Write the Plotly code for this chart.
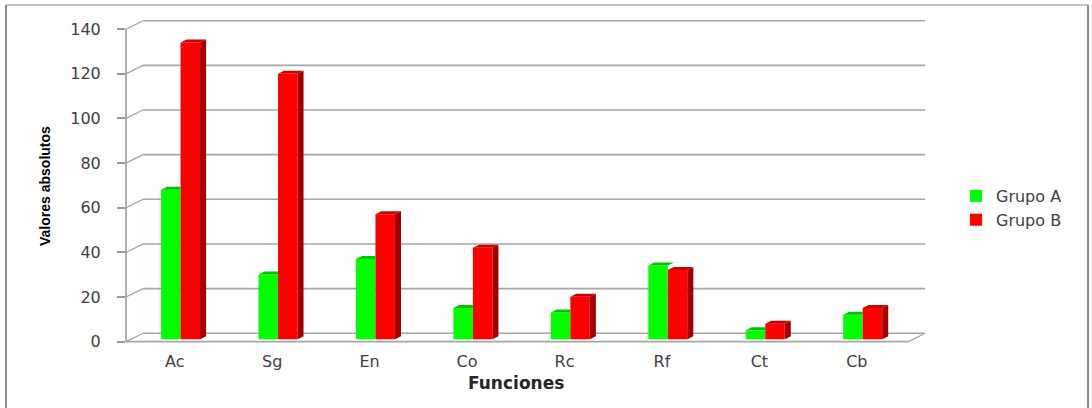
import plotly.graph_objects as go

categories = ["Ac", "Sg", "En", "Co", "Rc", "Rf", "Ct", "Cb"]
grupo_a = [67, 29, 36, 14, 12, 33, 4, 11]
grupo_b = [133, 119, 56, 41, 19, 31, 7, 14]
y_ticks = [0, 20, 40, 60, 80, 100, 120, 140]

GREEN = "#00FF00"
RED = "#FF0000"
RED_SIDE = "#A00000"
RED_TOP = "#CC0000"
GREEN_TOP = "#00C400"
GRID = "#A6A6A6"
TXT = "#404040"

BAR_W = 0.2
OFF_A = -0.14
OFF_B = OFF_A + BAR_W
# 3D depth for bars (data units)
DX, DY = 0.062, 1.35
# back-wall offset (data units)
BDX, BDY = 0.175, 3.77
X0, X1 = -0.5, 7.72
FRONT_END = 7.53
BACK_END = 7.70
Y_RANGE = [-1.5, 145]
FLOOR_SHIFT = 1.07  # bars stand on the floor slightly behind the front edge

fig = go.Figure()
fig.add_trace(go.Bar(x=categories, y=grupo_a, name="Grupo A", marker_color=GREEN,
                     marker_line_width=0, width=BAR_W, offset=OFF_A, yaxis="y2"))
fig.add_trace(go.Bar(x=categories, y=grupo_b, name="Grupo B", marker_color=RED,
                     marker_line_width=0, width=BAR_W, offset=OFF_B, yaxis="y2"))

shapes = []
# back wall grid lines and left diagonals
for v in y_ticks:
    shapes.append(dict(type="line", xref="x", yref="y", x0=X0 + BDX, x1=BACK_END,
                       y0=v + BDY, y1=v + BDY, line=dict(color=GRID, width=1.6), layer="below"))
    shapes.append(dict(type="line", xref="x", yref="y", x0=X0, x1=X0 + BDX,
                       y0=v, y1=v + BDY, line=dict(color=GRID, width=1.3), layer="below"))
# floor front edge and right diagonal
shapes.append(dict(type="line", xref="x", yref="y", x0=X0, x1=FRONT_END, y0=0, y1=0,
                   line=dict(color=GRID, width=1.6), layer="below"))
shapes.append(dict(type="line", xref="x", yref="y", x0=FRONT_END, x1=BACK_END, y0=0, y1=BDY,
                   line=dict(color=GRID, width=1.3), layer="below"))

# 3D faces of bars
for i, (a, b) in enumerate(zip(grupo_a, grupo_b)):
    ga0, ga1 = i + OFF_A, i + OFF_A + BAR_W
    rb0, rb1 = i + OFF_B, i + OFF_B + BAR_W
    if a >= b:
        path = f"M{ga0},{a} L{ga1},{a} L{ga1 + DX},{a + DY} L{ga0 + DX},{a + DY} Z"
    else:
        path = f"M{ga0},{a} L{ga1},{a} L{ga1},{a + DY} L{ga0 + DX},{a + DY} Z"
    shapes.append(dict(type="path", xref="x", yref="y2", path=path,
                       fillcolor=GREEN_TOP, line=dict(width=0), layer="above"))
    path = f"M{rb0},{b} L{rb1},{b} L{rb1 + DX},{b + DY} L{rb0 + DX},{b + DY} Z"
    shapes.append(dict(type="path", xref="x", yref="y2", path=path,
                       fillcolor=RED_TOP, line=dict(width=0), layer="above"))
    path = f"M{rb1},0 L{rb1},{b} L{rb1 + DX},{b + DY} L{rb1 + DX},{DY} Z"
    shapes.append(dict(type="path", xref="x", yref="y2", path=path,
                       fillcolor=RED_SIDE, line=dict(width=0), layer="above"))

# outer frame
W, H = 1092, 408
L, R, T, B = 126, 165, 18, 63
pw, ph = W - L - R, H - T - B
def px(x):
    return (x - L) / pw
def py(y):
    return (H - B - y) / ph
shapes.append(dict(type="line", xref="paper", yref="paper", x0=px(6), x1=px(1088),
                   y0=py(5), y1=py(5), line=dict(color="#C4C4C4", width=2)))
shapes.append(dict(type="line", xref="paper", yref="paper", x0=px(6), x1=px(6),
                   y0=py(5), y1=py(420), line=dict(color="#8C8C8C", width=2)))
shapes.append(dict(type="line", xref="paper", yref="paper", x0=px(1088), x1=px(1088),
                   y0=py(5), y1=py(420), line=dict(color="#8C8C8C", width=2)))
# front y axis line from 0 to 140
shapes.append(dict(type="line", xref="paper", yref="y", x0=0, x1=0, y0=0, y1=140,
                   line=dict(color="#9A9A9A", width=1.6)))

annotations = [
    dict(text="<b>Valores absolutos</b>", xref="paper", yref="paper", x=px(45), y=py(186),
         textangle=-90, showarrow=False, xanchor="center", yanchor="middle",
         font=dict(family="Liberation Sans", size=14, color="#000000")),
    dict(text="<b>Funciones</b>", xref="paper", yref="paper", x=px(516), y=py(383),
         showarrow=False, xanchor="center", yanchor="middle",
         font=dict(family="DejaVu Sans", size=17, color="#262626")),
]

fig.update_layout(
    width=W, height=H,
    margin=dict(l=L, r=R, t=T, b=B, pad=0),
    paper_bgcolor="white", plot_bgcolor="white",
    barmode="group",
    shapes=shapes,
    annotations=annotations,
    font=dict(family="DejaVu Sans", size=16, color=TXT),
    legend=dict(xref="container", yref="container", x=956 / W, y=(H - 208) / H,
                xanchor="left", yanchor="middle", font=dict(size=16, color=TXT),
                bgcolor="rgba(0,0,0,0)", itemclick=False),
    showlegend=True,
    yaxis2=dict(overlaying="y", range=[Y_RANGE[0] - FLOOR_SHIFT, Y_RANGE[1] - FLOOR_SHIFT],
                visible=False, fixedrange=True),
)
fig.update_xaxes(range=[X0, X1], showgrid=False, showline=False, zeroline=False,
                 ticks="", tickfont=dict(size=16, color=TXT), ticklabelstandoff=5,
                 fixedrange=True)
fig.update_yaxes(selector=dict(overlaying=None))
fig.layout.yaxis.update(range=Y_RANGE, tickvals=y_ticks, showgrid=False, zeroline=False,
                        showline=False, ticks="outside", ticklen=8, tickcolor="#9A9A9A",
                        tickwidth=1.5, tickfont=dict(size=16, color=TXT),
                        ticklabelstandoff=13, fixedrange=True)

fig.write_html("out.html")
